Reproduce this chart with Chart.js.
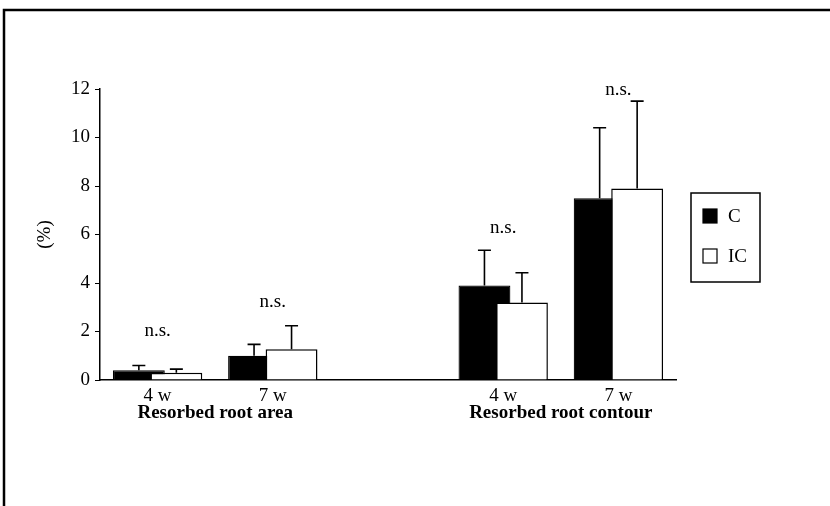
<!DOCTYPE html>
<html>
<head>
<meta charset="utf-8">
<script src="https://cdn.jsdelivr.net/npm/chart.js@4.4.1/dist/chart.umd.min.js"></script>
<style>
  html, body { margin: 0; padding: 0; background: #fff; }
  #wrap { position: relative; width: 830px; height: 506px; }
</style>
</head>
<body>
<div id="wrap"><canvas id="resorptionChart" width="830" height="506"></canvas></div>
<script>
// Data
const categories = ["4 w", "7 w", "", "4 w", "7 w"];
const groupLabels = ["Resorbed root area", "Resorbed root contour"];
const groupSpans = [[0, 1], [3, 4]];
const cMean = [0.4, 1.0, null, 3.9, 7.5];
const cSd = [0.2, 0.47, null, 1.45, 2.9];
const icMean = [0.3, 1.27, null, 3.2, 7.9];
const icSd = [0.15, 0.97, null, 1.22, 3.6];
const nsLevel = [2.0, 3.2, null, 6.25, 11.95];
const yMax = 12;
const yStep = 2;

const serif = "'Liberation Serif', 'DejaVu Serif', serif";
const fontSize = 19;
const sdList = [cSd, icSd];

// Draw datasets in index order so the white bars sit on top of the black ones
const drawOrderPlugin = {
    id: "drawOrder",
    beforeDatasetsDraw(chart) {
        chart.data.datasets.forEach((ds, i) => {
            chart.getDatasetMeta(i).controller.draw();
        });
        return false;
    }
};

// Error bars, n.s. marks, group labels, legend box and frame
const extrasPlugin = {
    id: "extras",
    afterDraw(chart) {
        const ctx = chart.ctx;
        const y = chart.scales.y;
        const x = chart.scales.x;
        ctx.save();

        // Error bars (upper only)
        ctx.strokeStyle = "#000";
        ctx.lineWidth = 1.6;
        chart.data.datasets.forEach((ds, i) => {
            const meta = chart.getDatasetMeta(i);
            meta.data.forEach((bar, j) => {
                if (ds.data[j] == null) return;
                const top = y.getPixelForValue(ds.data[j] + sdList[i][j]);
                const base = y.getPixelForValue(ds.data[j]);
                ctx.beginPath();
                ctx.moveTo(bar.x, base);
                ctx.lineTo(bar.x, top);
                ctx.moveTo(bar.x - 6.5, top);
                ctx.lineTo(bar.x + 6.5, top);
                ctx.stroke();
            });
        });

        // n.s. labels
        ctx.fillStyle = "#000";
        ctx.font = fontSize + "px " + serif;
        ctx.textAlign = "center";
        ctx.textBaseline = "middle";
        nsLevel.forEach((v, j) => {
            if (v == null) return;
            ctx.fillText("n.s.", x.getPixelForValue(j), y.getPixelForValue(v));
        });

        // Group labels under the ticks
        ctx.font = "bold " + fontSize + "px " + serif;
        groupSpans.forEach((span, k) => {
            const cx = (x.getPixelForValue(span[0]) + x.getPixelForValue(span[1])) / 2;
            ctx.fillText(groupLabels[k], cx, 413);
        });

        // Legend box
        ctx.lineWidth = 1.5;
        ctx.strokeRect(691, 193, 69, 89);
        ctx.font = fontSize + "px " + serif;
        ctx.textAlign = "left";
        chart.data.datasets.forEach((ds, i) => {
            const ly = 216 + i * 40;
            ctx.fillStyle = ds.backgroundColor;
            ctx.fillRect(703, ly - 7, 14, 14);
            ctx.strokeStyle = "#000";
            ctx.lineWidth = 1.2;
            ctx.strokeRect(703, ly - 7, 14, 14);
            ctx.fillStyle = "#000";
            ctx.fillText(ds.label, 728, ly + 1);
        });

        // Figure frame (top and left edge)
        ctx.lineWidth = 2.5;
        ctx.beginPath();
        ctx.moveTo(4, 506);
        ctx.lineTo(4, 10);
        ctx.lineTo(830, 10);
        ctx.stroke();

        ctx.restore();
    }
};

const resorptionCtx = document.getElementById("resorptionChart");

new Chart(resorptionCtx, {
    type: "bar",
    data: {
        labels: categories,
        datasets: [
            {
                label: "C",
                data: cMean,
                backgroundColor: "#000",
                borderColor: "#000",
                borderWidth: 1.2,
                categoryPercentage: 0.651,
                barPercentage: 1.383
            },
            {
                label: "IC",
                data: icMean,
                backgroundColor: "#fff",
                borderColor: "#000",
                borderWidth: 1.5,
                categoryPercentage: 0.651,
                barPercentage: 1.383
            }
        ]
    },
    options: {
        responsive: false,
        animation: false,
        layout: {
            padding: { top: 89, right: 154, bottom: 0, left: 0 }
        },
        plugins: {
            legend: { display: false },
            tooltip: { enabled: false }
        },
        scales: {
            x: {
                grid: { display: false, drawTicks: false },
                border: { display: true, color: "#000", width: 1.5 },
                ticks: {
                    color: "#000",
                    padding: 5,
                    font: { family: serif, size: fontSize }
                },
                afterFit(scale) { scale.height = 126; }
            },
            y: {
                min: 0,
                max: yMax,
                ticks: {
                    stepSize: yStep,
                    color: "#000",
                    padding: 5,
                    font: { family: serif, size: fontSize }
                },
                grid: {
                    drawOnChartArea: false,
                    color: "#000",
                    tickLength: 5
                },
                border: { display: true, color: "#000", width: 1.5 },
                title: {
                    display: true,
                    text: "(%)",
                    color: "#000",
                    padding: { top: 34, bottom: 0 },
                    font: { family: serif, size: fontSize }
                },
                afterFit(scale) { scale.width = 100; }
            }
        }
    },
    plugins: [drawOrderPlugin, extrasPlugin]
});
</script>
</body>
</html>
